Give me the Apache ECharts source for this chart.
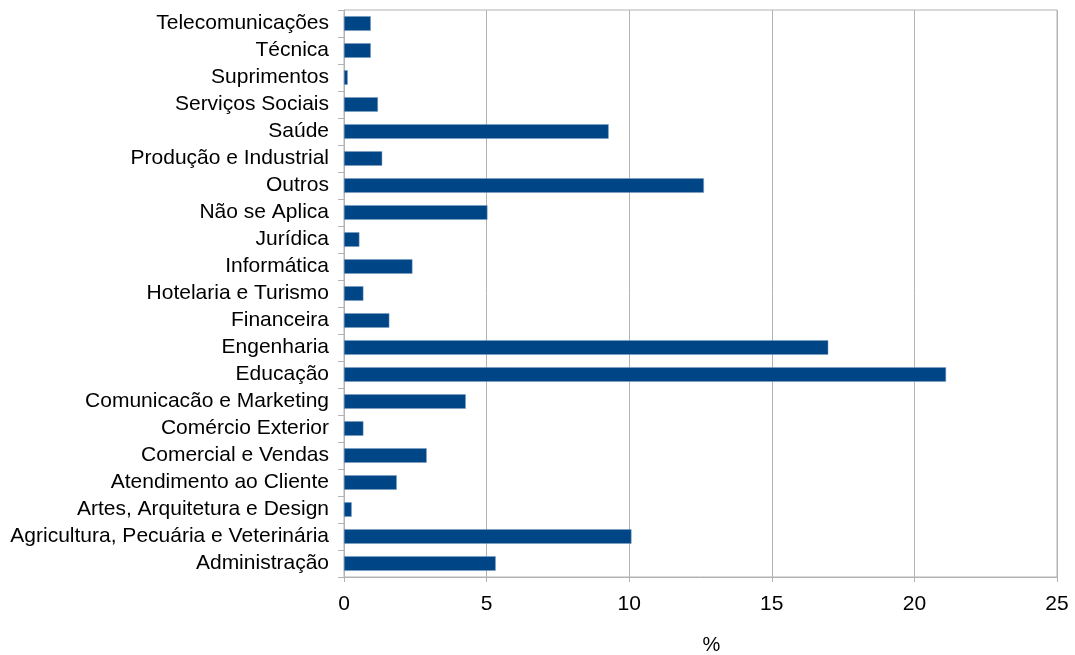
<!DOCTYPE html>
<html>
<head>
<meta charset="utf-8">
<script src="https://cdn.jsdelivr.net/npm/echarts@6/dist/echarts.min.js"></script>
<style>
  html, body { margin: 0; padding: 0; background: #fff; }
  #barChart { width: 1075px; height: 655px; }
</style>
</head>
<body>
<div id="barChart"></div>
<script>
// categories bottom -> top (as drawn on the category axis)
var areas = [
  "Administração",
  "Agricultura, Pecuária e Veterinária",
  "Artes, Arquitetura e Design",
  "Atendimento ao Cliente",
  "Comercial e Vendas",
  "Comércio Exterior",
  "Comunicacão e Marketing",
  "Educação",
  "Engenharia",
  "Financeira",
  "Hotelaria e Turismo",
  "Informática",
  "Jurídica",
  "Não se Aplica",
  "Outros",
  "Produção e Industrial",
  "Saúde",
  "Serviços Sociais",
  "Suprimentos",
  "Técnica",
  "Telecomunicações"
];
var percent = [5.32, 10.08, 0.27, 1.85, 2.9, 0.68, 4.27, 21.11, 16.98, 1.59, 0.68, 2.4, 0.54, 5.03, 12.62, 1.34, 9.28, 1.19, 0.13, 0.94, 0.94];
var xTicks = [0, 5, 10, 15, 20, 25];

var chart = echarts.init(document.getElementById("barChart"));
chart.setOption({
  animation: false,
  textStyle: { fontFamily: "Liberation Sans, Arial, sans-serif" },
  grid: {
    left: 344,
    right: 18,
    top: 10,
    bottom: 78,
    containLabel: false,
    outerBoundsMode: "none",
    show: true,
    borderColor: "#b3b3b3",
    borderWidth: 1
  },
  xAxis: {
    type: "value",
    min: xTicks[0],
    max: xTicks[xTicks.length - 1],
    interval: 5,
    name: "%",
    nameLocation: "middle",
    nameGap: 58,
    nameTextStyle: { color: "#000", fontSize: 20, padding: [0, 0, 0, 22] },
    axisLine: { show: true, lineStyle: { color: "#b3b3b3" } },
    axisTick: { show: true, length: 5, lineStyle: { color: "#b3b3b3" } },
    axisLabel: { color: "#000", fontSize: 21, margin: 17 },
    splitLine: { show: true, lineStyle: { color: "#b3b3b3" } }
  },
  yAxis: {
    type: "category",
    data: areas,
    axisLine: { show: true, lineStyle: { color: "#b3b3b3" } },
    axisTick: { show: true, length: 6, lineStyle: { color: "#b3b3b3" } },
    axisLabel: { color: "#000", fontSize: 21, margin: 15, interval: 0 },
    splitLine: { show: false }
  },
  series: [
    {
      type: "bar",
      data: percent,
      barWidth: "54%",
      itemStyle: { color: "#004586", borderColor: "#7f9fc2", borderWidth: 0.5 }
    }
  ]
});
</script>
</body>
</html>
